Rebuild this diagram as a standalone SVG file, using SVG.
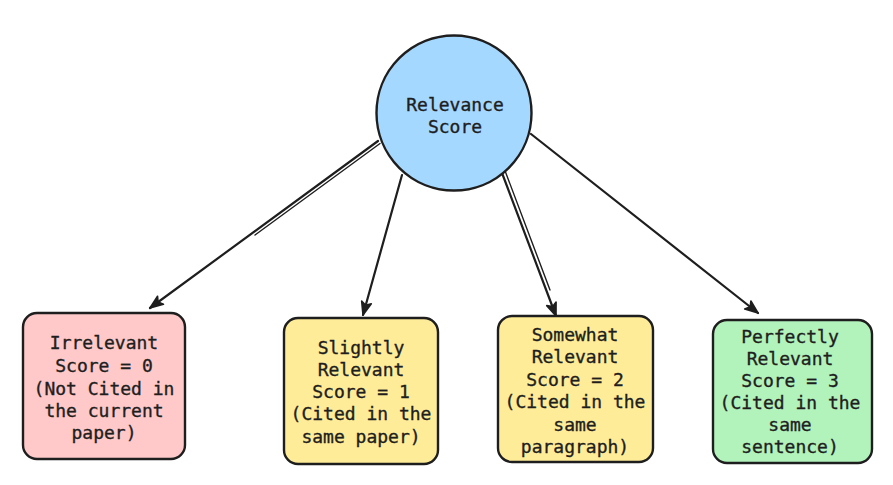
<svg xmlns="http://www.w3.org/2000/svg" width="893" height="485" viewBox="0 0 893 485">
<defs>
<style>
.lbl{font-family:"DejaVu Sans Mono","Liberation Mono",monospace;font-size:18px;fill:#1e1e1e;stroke:#1e1e1e;stroke-width:0.35;text-anchor:middle;dominant-baseline:central}
.box{stroke:#1e1e1e;stroke-width:2.4;stroke-linejoin:round}
.edge{fill:none;stroke:#1e1e1e;stroke-width:2.2;stroke-linecap:round}
.thin{fill:none;stroke:#1e1e1e;stroke-width:1.4;stroke-linecap:round}
</style>
<marker id="ah" viewBox="0 0 20 20" refX="18" refY="10" markerWidth="20" markerHeight="20" markerUnits="userSpaceOnUse" orient="auto">
<path d="M5,5 L18,10 L5,15 L8,10 Z" fill="#1e1e1e" stroke="#1e1e1e" stroke-width="1.6" stroke-linejoin="round"/>
</marker>
</defs>
<rect width="893" height="485" fill="#ffffff"/>
<g id="connectors">
<path class="edge" d="M378,141 L150,308" marker-end="url(#ah)"/>
<path class="thin" d="M380,143.5 L255,235"/>
<path class="edge" d="M402,175 L363,315" marker-end="url(#ah)"/>
<path class="edge" d="M502,173 L556,316" marker-end="url(#ah)"/>
<path class="thin" d="M505.5,172 L550,290"/>
<path class="edge" d="M531,134 L758,313" marker-end="url(#ah)"/>
</g>
<g id="root">
<circle class="box" cx="454" cy="113" r="77.5" fill="#a5d8ff"/>
<text class="lbl" x="455" y="104">Relevance</text>
<text class="lbl" x="455" y="126">Score</text>
</g>
<g id="n0">
<rect class="box" x="23" y="313" width="162" height="146" rx="14" fill="#ffc9c9"/>
<text class="lbl" x="104" y="342">Irrelevant</text>
<text class="lbl" x="104" y="365">Score = 0</text>
<text class="lbl" x="104" y="388">(Not Cited in</text>
<text class="lbl" x="104" y="410">the current</text>
<text class="lbl" x="104" y="432">paper)</text>
</g>
<g id="n1">
<rect class="box" x="284" y="318" width="154" height="146" rx="14" fill="#ffec99"/>
<text class="lbl" x="361" y="347">Slightly</text>
<text class="lbl" x="361" y="369">Relevant</text>
<text class="lbl" x="361" y="391">Score = 1</text>
<text class="lbl" x="361" y="413">(Cited in the</text>
<text class="lbl" x="361" y="436">same paper)</text>
</g>
<g id="n2">
<rect class="box" x="498" y="316" width="155" height="146" rx="14" fill="#ffec99"/>
<text class="lbl" x="575" y="334">Somewhat</text>
<text class="lbl" x="575" y="356">Relevant</text>
<text class="lbl" x="575" y="379">Score = 2</text>
<text class="lbl" x="575" y="401">(Cited in the</text>
<text class="lbl" x="575" y="424">same</text>
<text class="lbl" x="575" y="446">paragraph)</text>
</g>
<g id="n3">
<rect class="box" x="713" y="320" width="159" height="143" rx="14" fill="#b2f2bb"/>
<text class="lbl" x="790" y="336">Perfectly</text>
<text class="lbl" x="790" y="358">Relevant</text>
<text class="lbl" x="790" y="380">Score = 3</text>
<text class="lbl" x="790" y="402">(Cited in the</text>
<text class="lbl" x="790" y="424">same</text>
<text class="lbl" x="790" y="446">sentence)</text>
</g>
</svg>
